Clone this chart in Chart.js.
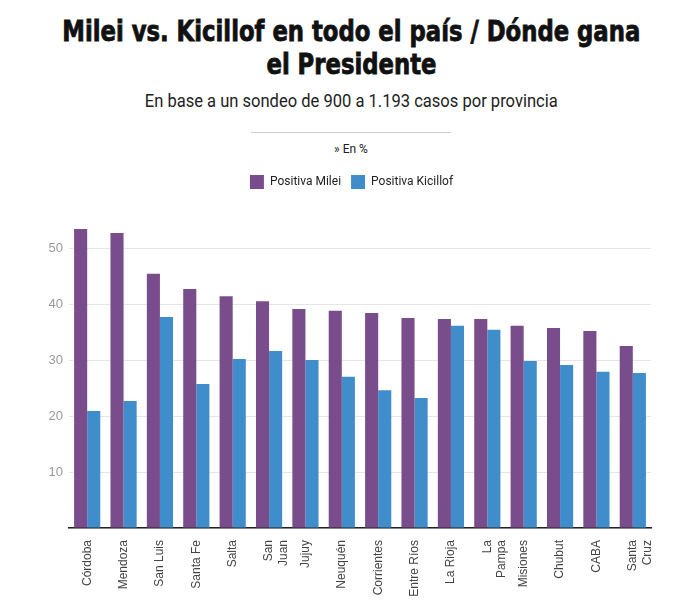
<!DOCTYPE html>
<html lang="es">
<head>
<meta charset="utf-8">
<script src="https://cdn.jsdelivr.net/npm/chart.js@4.4.1/dist/chart.umd.min.js"></script>
<style>
  body { margin: 0; background: #fff; width: 674px; height: 606px; overflow: hidden; position: relative; }
  .line {
    position: absolute; left: 14px; width: 674px; text-align: center; white-space: nowrap;
  }
  .line span { display: inline-block; transform-origin: 50% 50%; }
  .title { font-family: "DejaVu Sans Condensed", "Roboto", sans-serif; font-weight: 700; font-size: 29px;
           line-height: 33px; color: #111; -webkit-text-stroke: 0.8px #111; }
  .t1 { top: 15px; }
  .t2 { top: 48px; }
  .subtitle { top: 89px; font-family: "Roboto", sans-serif; font-size: 19px; line-height: 24px; color: #222; }
  .rule { position: absolute; left: 251px; top: 132px; width: 200px; height: 0; border-top: 1px solid #ccc; }
  .unit { top: 142px; font-family: "Roboto", sans-serif; font-size: 12px; color: #222; }
  .chart-box { position: absolute; left: 0; top: 165px; width: 674px; height: 441px; }
</style>
</head>
<body>
<div class="line title t1"><span id="t1">Milei vs. Kicillof en todo el país / Dónde gana</span></div>
<div class="line title t2"><span id="t2">el Presidente</span></div>
<div class="line subtitle"><span id="sub">En base a un sondeo de 900 a 1.193 casos por provincia</span></div>
<div class="rule"></div>
<div class="line unit"><span>» En %</span></div>
<div class="chart-box"><canvas id="provChart"></canvas></div>

<script>
// Provincias (ordenadas por Milei)
const provinces = [
  'Córdoba', 'Mendoza', 'San Luis', 'Santa Fe', 'Salta', ['San', 'Juan'], 'Jujuy', 'Neuquén',
  'Corrientes', 'Entre Ríos', 'La Rioja', ['La', 'Pampa'], 'Misiones', 'Chubut', 'CABA', ['Santa', 'Cruz']
];
const mileiValues = [53.4, 52.7, 45.4, 42.7, 41.4, 40.5, 39.1, 38.8, 38.4, 37.5, 37.3, 37.3, 36.1, 35.7, 35.2, 32.5];
const kicillofValues = [20.9, 22.7, 37.7, 25.7, 30.2, 31.6, 30.0, 27.0, 24.6, 23.2, 36.1, 35.4, 29.8, 29.1, 27.9, 27.7];
const yTicks = [10, 20, 30, 40, 50];

// squeeze header text to the narrow look of the original
const t1 = document.getElementById('t1');
const titleScale = 578 / t1.getBoundingClientRect().width;
t1.style.transform = 'scaleX(' + titleScale + ')';
document.getElementById('t2').style.transform = 'scaleX(' + titleScale + ')';
const sub = document.getElementById('sub');
sub.style.transform = 'scaleX(' + (413 / sub.getBoundingClientRect().width) + ')';

// legend: extra space below it, and shifted to sit under the title
const legendTweak = {
  id: 'legendTweak',
  beforeInit(chart) {
    const origFit = chart.legend.fit;
    chart.legend.fit = function () {
      origFit.bind(chart.legend)();
      this.height += 21;
    };
  },
  afterLayout(chart) {
    chart.legend.left += 26;
    chart.legend.right += 26;
  }
};

const ctx = document.getElementById('provChart').getContext('2d');
new Chart(ctx, {
  type: 'bar',
  data: {
    labels: provinces,
    datasets: [
      { label: 'Positiva Milei', data: mileiValues, backgroundColor: '#794d8c' },
      { label: 'Positiva Kicillof', data: kicillofValues, backgroundColor: '#3f8ecb' }
    ]
  },
  options: {
    responsive: true,
    maintainAspectRatio: false,
    animation: false,
    layout: { padding: { left: 0, right: 23, top: 0, bottom: 0 } },
    datasets: { bar: { categoryPercentage: 0.72, barPercentage: 1.0 } },
    scales: {
      x: {
        grid: { display: false },
        border: { display: true, color: '#222', width: 1.5 },
        ticks: {
          color: '#444', font: { family: 'Arial, Liberation Sans, sans-serif', size: 12 },
          minRotation: 90, maxRotation: 90, autoSkip: false, padding: 4
        },
        afterFit(scale) { scale.height = 78; }
      },
      y: {
        min: 0, max: 55,
        border: { display: false },
        grid: { color: '#e6e6e6', drawTicks: false },
        ticks: {
          stepSize: 10, includeBounds: false, padding: 6,
          color: '#9a9a9a', font: { family: 'Arial, Liberation Sans, sans-serif', size: 13 },
          callback: (v) => yTicks.includes(v) ? v : ''
        },
        afterFit(scale) { scale.width = 69; }
      }
    },
    plugins: {
      legend: {
        position: 'top',
        labels: {
          boxWidth: 14, boxHeight: 14, padding: 10, color: '#222',
          font: { family: 'Roboto, sans-serif', size: 12 }
        }
      },
      tooltip: { enabled: false }
    }
  },
  plugins: [legendTweak]
});
</script>
</body>
</html>
